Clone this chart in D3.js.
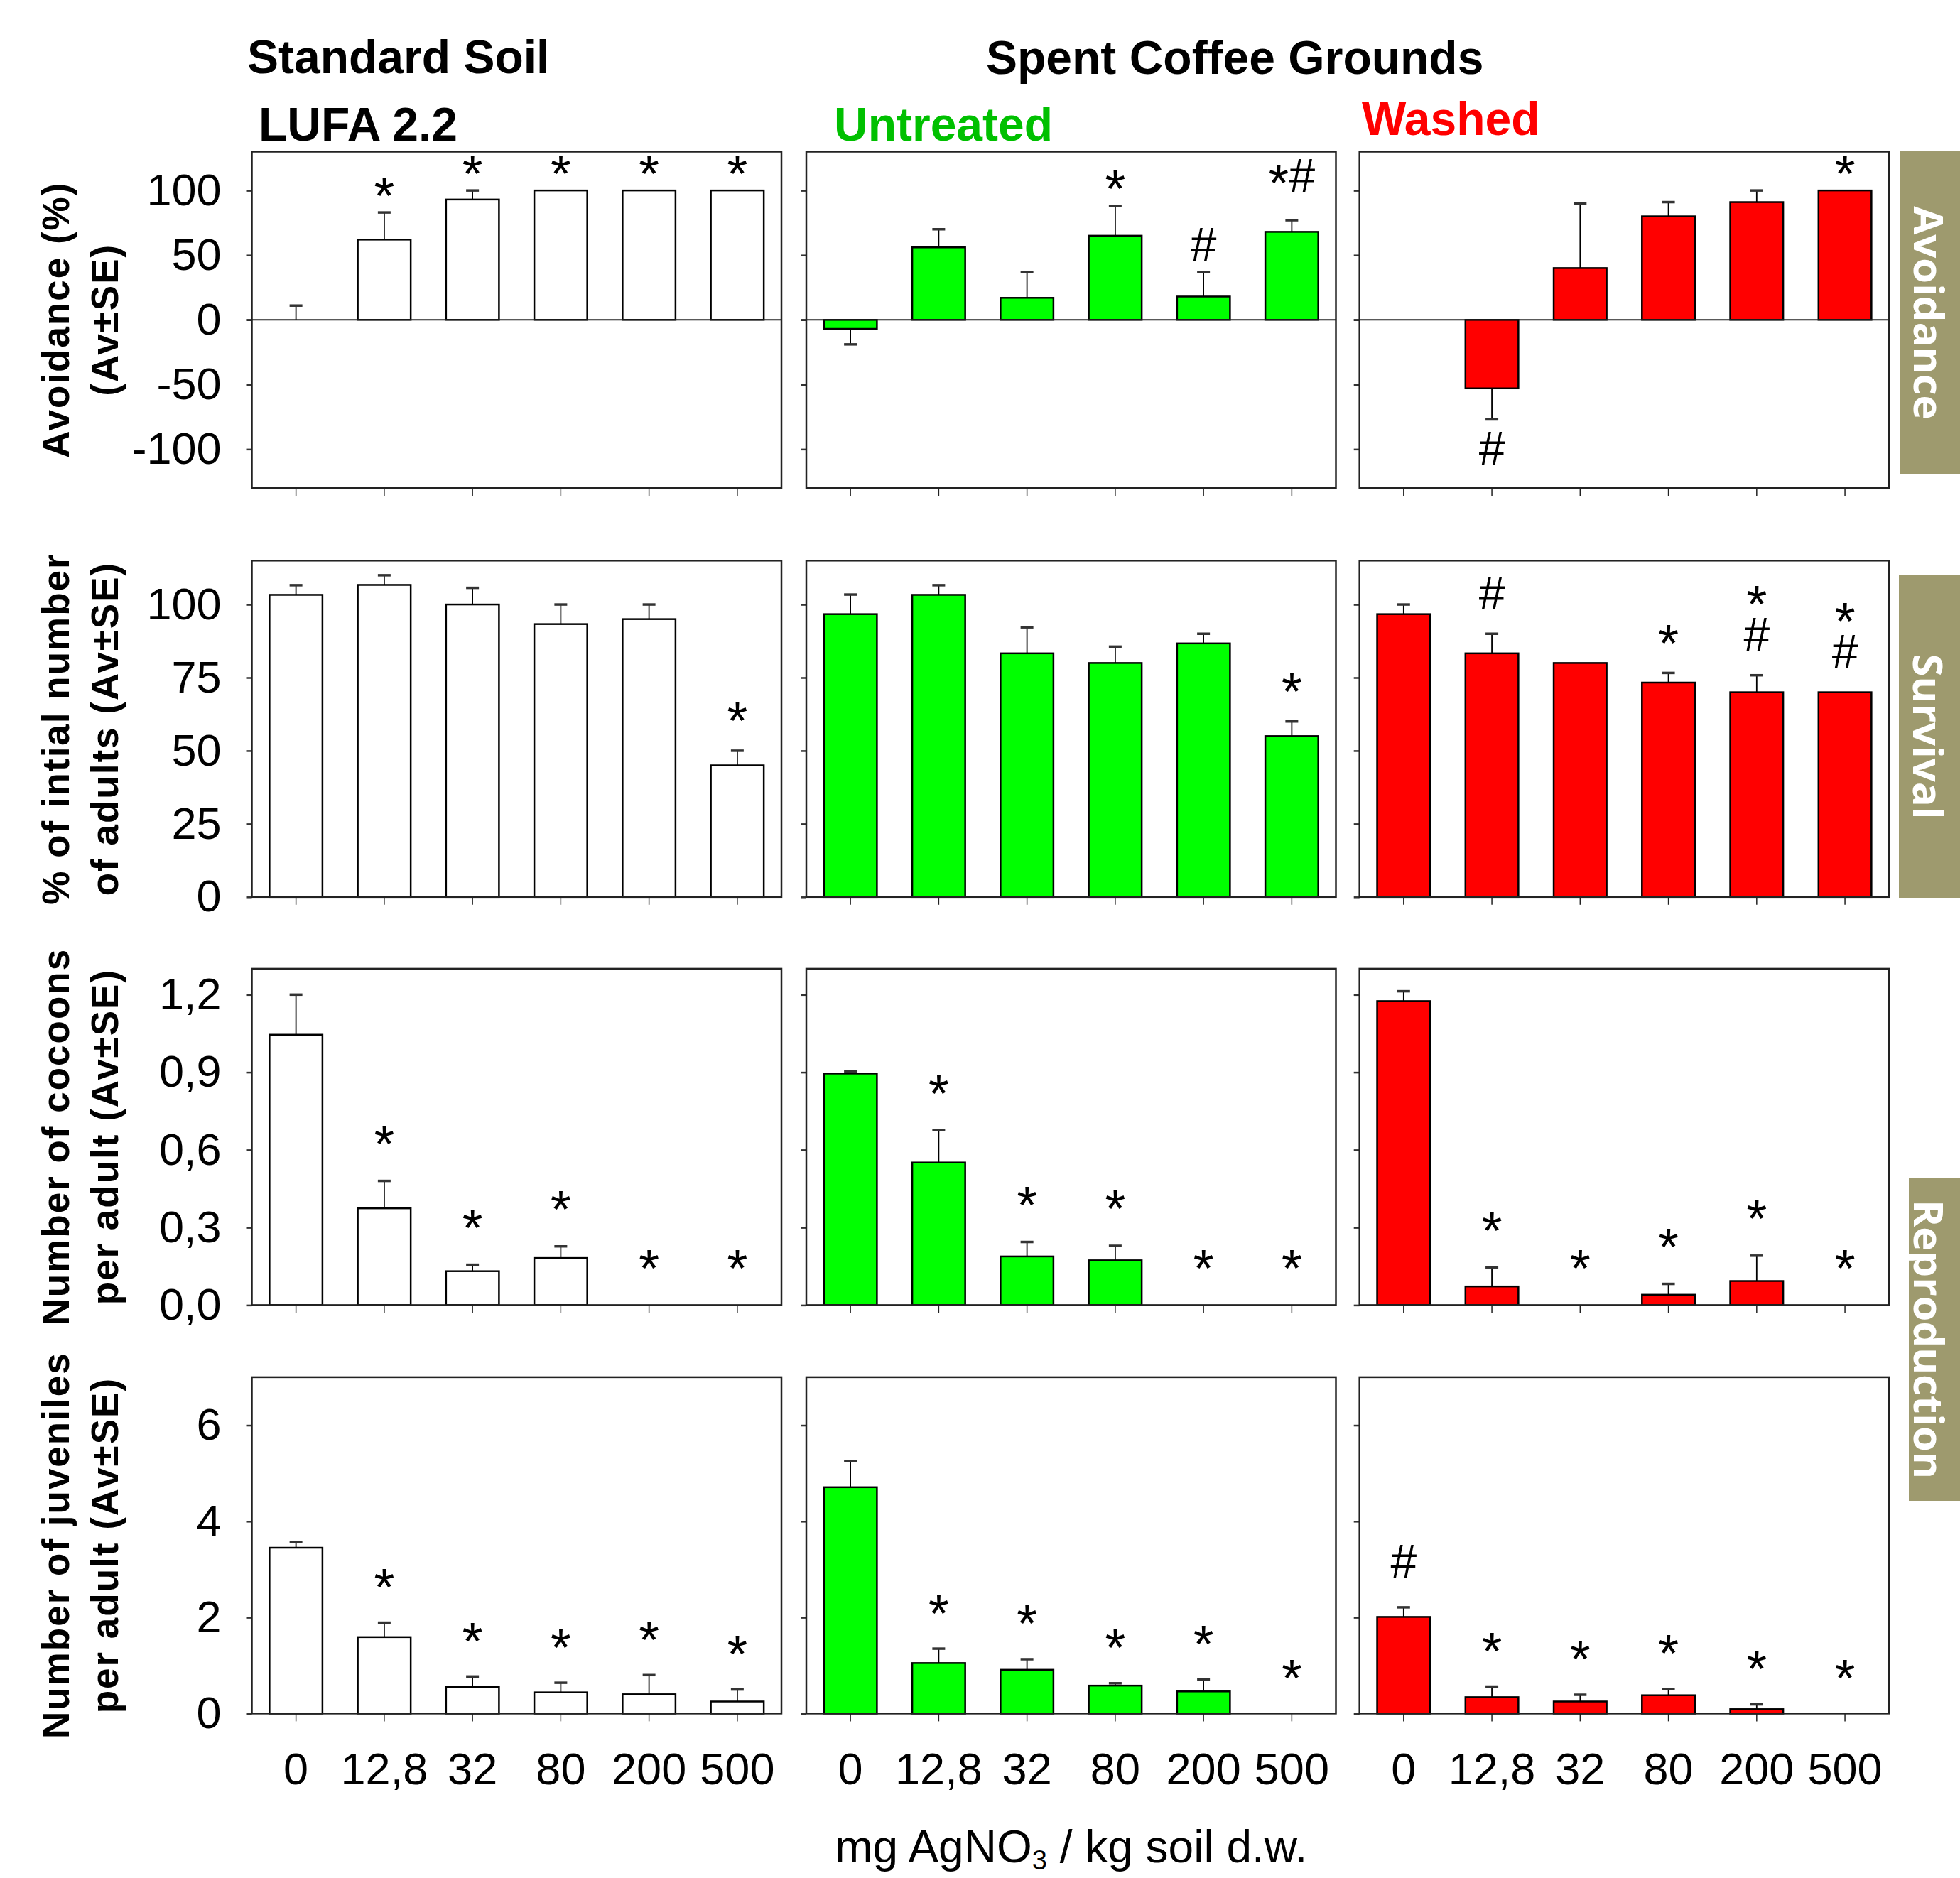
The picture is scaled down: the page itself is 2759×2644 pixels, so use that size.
<!DOCTYPE html>
<html>
<head>
<meta charset="utf-8">
<script src="https://cdn.jsdelivr.net/npm/d3@7"></script>
<style>
  body { margin: 0; background: #fff; }
  svg text { font-family: "Liberation Sans", Arial, Helvetica, sans-serif; }
</style>
</head>
<body>
<div id="chart"></div>
<script>
// Data (columns: LUFA 2.2, untreated SCG, washed SCG)
const doses = ['0', '12,8', '32', '80', '200', '500']

const avoidanceMean = [
  [0, 62, 93, 100, 100, 100],
  [-7, 56, 17, 65, 18, 68],
  [0, -53, 40, 80, 91, 100],
]
const avoidanceSE = [
  [11, 21, 7, 0, 0, 0],
  [12, 14, 20, 23, 19, 9],
  [0, 24, 50, 11, 9, 0],
]
const avoidanceMarks = [
  ['', '*', '*', '*', '*', '*'],
  ['', '', '', '*', '#', '*#'],
  ['', '#', '', '', '', '*'],
]
const avoidanceTicks = [-100, -50, 0, 50, 100]

const survivalMean = [
  [103.3, 106.7, 100, 93.3, 95, 45],
  [96.7, 103.3, 83.3, 80, 86.7, 55],
  [96.7, 83.3, 80, 73.3, 70, 70],
]
const survivalSE = [
  [3.3, 3.3, 5.7, 6.7, 5, 5],
  [6.7, 3.3, 8.9, 5.6, 3.3, 5],
  [3.3, 6.7, 0, 3.3, 5.8, 0],
]
const survivalMarks = [
  ['', '', '', '', '', '*'],
  ['', '', '', '', '', '*'],
  ['', '#', '', '*', '*/#', '*/#'],
]
const survivalTicks = [0, 25, 50, 75, 100]

const cocoonsMean = [
  [1.045, 0.374, 0.131, 0.182, 0, 0],
  [0.895, 0.551, 0.188, 0.173, 0, 0],
  [1.175, 0.072, 0, 0.040, 0.093, 0],
]
const cocoonsSE = [
  [0.155, 0.106, 0.025, 0.045, 0, 0],
  [0.008, 0.125, 0.056, 0.056, 0, 0],
  [0.038, 0.074, 0, 0.042, 0.098, 0],
]
const cocoonsMarks = [
  ['', '*', '*', '*', '*', '*'],
  ['', '*', '*', '*', '*', '*'],
  ['', '*', '*', '*', '*', '*'],
]
const cocoonsTicks = [0, 0.3, 0.6, 0.9, 1.2]

const juvenilesMean = [
  [3.45, 1.59, 0.55, 0.44, 0.40, 0.25],
  [4.71, 1.05, 0.91, 0.58, 0.46, 0],
  [2.01, 0.34, 0.25, 0.38, 0.09, 0],
]
const juvenilesSE = [
  [0.12, 0.30, 0.22, 0.20, 0.40, 0.25],
  [0.54, 0.30, 0.22, 0.05, 0.25, 0],
  [0.20, 0.22, 0.14, 0.13, 0.10, 0],
]
const juvenilesMarks = [
  ['', '*', '*', '*', '*', '*'],
  ['', '*', '*', '*', '*', '*'],
  ['#', '*', '*', '*', '*', '*'],
]
const juvenilesTicks = [0, 2, 4, 6]

// Dimensions
const dimensions = {
  width: 2759,
  height: 2644,
  colX: [354.5, 1135, 1913.7],
  rowY: [213.5, 789.3, 1363.9, 1938.9],
  panelW: 745.5,
  panelH: 473.5,
}

const fills = ['#ffffff', '#00ff00', '#ff0000']
const intFmt = d => String(d) // plain hyphen for negatives, as in the original

const rows = [
  { mean: avoidanceMean, se: avoidanceSE, marks: avoidanceMarks, ticks: avoidanceTicks,
    domain: [-130, 130], fmt: intFmt, gap: 40,
    title: ['Avoidance (%)', '(Av±SE)'] },
  { mean: survivalMean, se: survivalSE, marks: survivalMarks, ticks: survivalTicks,
    domain: [0, 115], fmt: intFmt, gap: 58,
    title: ['% of intial number', 'of adults (Av±SE)'] },
  { mean: cocoonsMean, se: cocoonsSE, marks: cocoonsMarks, ticks: cocoonsTicks,
    domain: [0, 1.3], fmt: d => d3.format('.1f')(d).replace('.', ','), gap: 68,
    title: ['Number of cocoons', 'per adult (Av±SE)'] },
  { mean: juvenilesMean, se: juvenilesSE, marks: juvenilesMarks, ticks: juvenilesTicks,
    domain: [0, 7], fmt: intFmt, gap: 66,
    title: ['Number of juveniles', 'per adult (Av±SE)'] },
]

const svg = d3.select('#chart')
  .append('svg')
  .attr('width', dimensions.width)
  .attr('height', dimensions.height)

svg.append('rect').attr('width', dimensions.width).attr('height', dimensions.height).attr('fill', '#fff')

const x = d3.scaleBand()
  .domain(doses)
  .range([0, dimensions.panelW])
  .paddingInner(0.4)
  .paddingOuter(0.2)

rows.forEach((row, r) => {
  const y = d3.scaleLinear().domain(row.domain).range([dimensions.panelH, 0])

  row.mean.forEach((means, c) => {
    const ctr = svg.append('g')
      .attr('transform', `translate(${dimensions.colX[c]}, ${dimensions.rowY[r]})`)

    const data = doses.map((dose, i) => ({
      dose, v: means[i], se: row.se[c][i], mark: row.marks[c][i]
    }))

    // y axis ticks (labels only on first column)
    const yAxis = d3.axisLeft(y)
      .tickValues(row.ticks)
      .tickSize(8)
      .tickSizeOuter(0)
      .tickPadding(35)
      .tickFormat(c === 0 ? row.fmt : '')
    const yg = ctr.append('g').call(yAxis)
    yg.select('.domain').remove()
    yg.selectAll('line').attr('stroke', '#333').attr('stroke-width', 2.5)
    yg.selectAll('text').attr('font-size', 63).attr('fill', '#000')
      .style('font-family', '"Liberation Sans", Arial, sans-serif')

    // x axis ticks (labels only on bottom row)
    const xAxis = d3.axisBottom(x)
      .tickSize(11)
      .tickSizeOuter(0)
      .tickPadding(44)
      .tickFormat(r === rows.length - 1 ? d => d : '')
    const xg = ctr.append('g')
      .attr('transform', `translate(0, ${dimensions.panelH})`)
      .call(xAxis)
    xg.select('.domain').remove()
    xg.selectAll('line').attr('stroke', '#222').attr('stroke-width', 1.5)
    xg.selectAll('text').attr('font-size', 63).attr('fill', '#000')
      .style('font-family', '"Liberation Sans", Arial, sans-serif')

    // error bars (one-sided, away from zero)
    const eb = ctr.append('g')
    data.filter(d => d.se > 0).forEach(d => {
      const cx = x(d.dose) + x.bandwidth() / 2
      const end = d.v < 0 ? d.v - d.se : d.v + d.se
      eb.append('line')
        .attr('x1', cx).attr('x2', cx)
        .attr('y1', y(d.v)).attr('y2', y(end))
        .attr('stroke', '#000').attr('stroke-width', 1.8)
      eb.append('line')
        .attr('x1', cx - 9).attr('x2', cx + 9)
        .attr('y1', y(end)).attr('y2', y(end))
        .attr('stroke', '#333').attr('stroke-width', 3.5)
    })

    // bars
    ctr.append('g').selectAll('rect')
      .data(data.filter(d => d.v !== 0))
      .join('rect')
      .attr('x', d => x(d.dose))
      .attr('width', x.bandwidth())
      .attr('y', d => y(Math.max(0, d.v)))
      .attr('height', d => Math.abs(y(d.v) - y(0)))
      .attr('fill', fills[c])
      .attr('stroke', '#000')
      .attr('stroke-width', 2.5)

    // zero line
    if (row.domain[0] < 0) {
      ctr.append('line')
        .attr('x1', -8).attr('x2', dimensions.panelW)
        .attr('y1', y(0)).attr('y2', y(0))
        .attr('stroke', '#222').attr('stroke-width', 2)
    }

    // frame
    ctr.append('rect')
      .attr('width', dimensions.panelW)
      .attr('height', dimensions.panelH)
      .attr('fill', 'none')
      .attr('stroke', '#222')
      .attr('stroke-width', 2.5)

    // significance marks ("/" = stacked, top part first)
    const mg = ctr.append('g').attr('font-size', 66).attr('fill', '#000').attr('text-anchor', 'middle')
    data.filter(d => d.mark).forEach(d => {
      const cx = x(d.dose) + x.bandwidth() / 2
      const neg = d.v < 0
      const edge = neg ? y(d.v - d.se) : y(Math.max(0, d.v) + d.se)
      const cy = neg ? edge + row.gap : edge - row.gap
      const t = mg.append('text').attr('x', cx).attr('y', cy)
      if (d.mark === '*') {
        t.attr('font-size', 74).attr('dy', '0.56em').text('*')
      } else if (d.mark === '#') {
        t.attr('dy', '0.36em').text('#')
      } else if (d.mark === '*#') {
        t.attr('dy', '0.36em')
        t.append('tspan').attr('font-size', 74).attr('dy', '0.18em').text('*')
        t.append('tspan').attr('dy', '-0.2em').text('#')
      } else {
        // stacked: "*" above "#"
        t.append('tspan').attr('x', cx).attr('font-size', 74).attr('dy', -58 + 0.56 * 74).text('*')
        t.append('tspan').attr('x', cx).attr('dy', 58 - 0.56 * 74 + 0.36 * 66).text('#')
      }
    })
  })

  // y axis title
  const cy = dimensions.rowY[r] + dimensions.panelH / 2
  row.title.forEach((line, k) => {
    svg.append('text')
      .attr('transform', `translate(${k === 0 ? 97 : 166}, ${cy}) rotate(-90)`)
      .attr('text-anchor', 'middle')
      .attr('font-size', 53)
      .attr('font-weight', 'bold')
      .attr('letter-spacing', 2)
      .text(line)
  })
})

// Column headings
const headings = [
  { text: 'Standard Soil', x: 348, y: 103, color: '#000' },
  { text: 'LUFA 2.2', x: 364, y: 198, color: '#000' },
  { text: 'Spent Coffee Grounds', x: 1388, y: 104, color: '#000' },
  { text: 'Untreated', x: 1174, y: 198, color: '#00c000' },
  { text: 'Washed', x: 1917, y: 190, color: '#ff0000' },
]
svg.append('g').selectAll('text')
  .data(headings)
  .join('text')
  .attr('x', d => d.x)
  .attr('y', d => d.y)
  .attr('font-size', 66)
  .attr('font-weight', 'bold')
  .attr('fill', d => d.color)
  .text(d => d.text)

// Side labels
const sideLabels = [
  { text: 'Avoidance', x: 2675, y0: 213, y1: 668 },
  { text: 'Survival', x: 2673, y0: 810, y1: 1264 },
  { text: 'Reproduction', x: 2687, y0: 1658, y1: 2113 },
]
sideLabels.forEach(s => {
  svg.append('rect')
    .attr('x', s.x).attr('y', s.y0)
    .attr('width', dimensions.width - s.x)
    .attr('height', s.y1 - s.y0)
    .attr('fill', '#9e9a6e')
  const tx = Math.min((s.x + dimensions.width) / 2 - 2, 2715)
  svg.append('text')
    .attr('transform', `translate(${tx}, ${(s.y0 + s.y1) / 2}) rotate(90)`)
    .attr('text-anchor', 'middle')
    .attr('dy', '0.36em')
    .attr('font-size', 58)
    .attr('font-weight', 'bold')
    .attr('fill', '#fff')
    .style('font-family', '"Open Sans", "DejaVu Sans", sans-serif')
    .text(s.text)
})

// x axis title
const xt = svg.append('text')
  .attr('x', (dimensions.colX[1] + dimensions.colX[1] + dimensions.panelW) / 2)
  .attr('y', 2622)
  .attr('text-anchor', 'middle')
  .attr('font-size', 64)
xt.append('tspan').text('mg AgNO')
xt.append('tspan').attr('font-size', 38).attr('dy', 10).text('3')
xt.append('tspan').attr('dy', -10).text(' / kg soil d.w.')
</script>
</body>
</html>
